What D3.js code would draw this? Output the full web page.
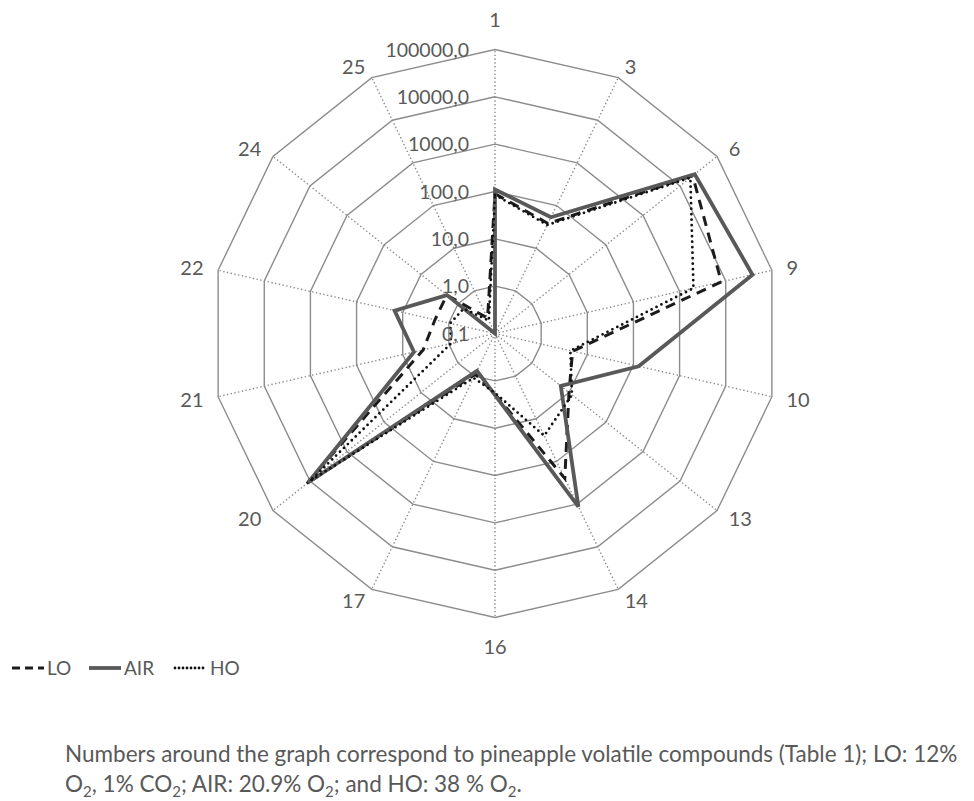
<!DOCTYPE html>
<html>
<head>
<meta charset="utf-8">
<script src="https://cdn.jsdelivr.net/npm/d3@7"></script>
<style>
  html, body { margin: 0; padding: 0; background: #ffffff; }
  svg { display: block; font-family: Lato, "Open Sans", sans-serif; }
</style>
</head>
<body>
<svg id="chart" width="974" height="801"></svg>
<script>
// Pineapple volatile compounds (numbers refer to Table 1)
const categories = ["1", "3", "6", "9", "10", "13", "14", "16", "17", "20", "21", "22", "24", "25"];

// Relative abundance per storage atmosphere (log scale)
const loValues  = [90, 38, 22000, 8000, 4.8, 10, 250, 1.9, 0.9, 12000, 3.6, 2.0, 2.0, 0.23];
const airValues = [110, 53, 25000, 38000, 130, 6, 1150, 2.0, 0.75, 11200, 5.7, 15, 2.0, 0.1];
const hoValues  = [85, 35, 19000, 2000, 4.3, 12, 25, 1.8, 1.1, 10000, 0.9, 0.93, 0.7, 0.2];

const seriesNames = ["LO", "AIR", "HO"];
const tickValues = [0.1, 1, 10, 100, 1000, 10000, 100000];

const series = [
  { name: seriesNames[0], values: loValues,  stroke: "#1c1c1c", width: 3,   dash: "10 7",  cap: "butt" },
  { name: seriesNames[1], values: airValues, stroke: "#595959", width: 3.8, dash: null,    cap: "butt" },
  { name: seriesNames[2], values: hoValues,  stroke: "#111111", width: 2.8, dash: "0 5.5", cap: "round" }
];

const svg = d3.select("#chart");
const cx = 495, cy = 333.5, R = 284;
const n = categories.length;
const textColor = "#595959";

const r = d3.scaleLog().domain([0.1, 100000]).range([0, R]).clamp(true);
const angle = d3.scaleLinear().domain([0, n]).range([0, 2 * Math.PI]);

const g = svg.append("g").attr("transform", `translate(${cx},${cy})`);

// Concentric polygon gridlines, one per decade
const ringLine = d3.lineRadial()
  .angle((d, i) => angle(i))
  .radius(d => d)
  .curve(d3.curveLinearClosed);

g.selectAll("path.ring")
  .data(tickValues.filter(t => t > 0.1))
  .join("path")
  .attr("class", "ring")
  .attr("d", t => ringLine(d3.range(n).map(() => r(t))))
  .attr("fill", "none")
  .attr("stroke", "#8c8c8c")
  .attr("stroke-width", 1.4);

// Dotted spokes
g.selectAll("line.spoke")
  .data(categories)
  .join("line")
  .attr("class", "spoke")
  .attr("x1", 0).attr("y1", 0)
  .attr("x2", (d, i) => R * Math.sin(angle(i)))
  .attr("y2", (d, i) => -R * Math.cos(angle(i)))
  .attr("stroke", "#8c8c8c")
  .attr("stroke-width", 1.4)
  .attr("stroke-dasharray", "1.4 2.4");

// Series polygons
const seriesLine = d3.lineRadial()
  .angle((d, i) => angle(i))
  .radius(d => r(d))
  .curve(d3.curveLinearClosed);

g.selectAll("path.series")
  .data(series)
  .join("path")
  .attr("class", "series")
  .attr("d", s => seriesLine(s.values))
  .attr("fill", "none")
  .attr("stroke", s => s.stroke)
  .attr("stroke-width", s => s.width)
  .attr("stroke-dasharray", s => s.dash)
  .attr("stroke-linecap", s => s.cap)
  .attr("stroke-linejoin", "miter");

// Value axis labels along the first spoke
const fmt = v => d3.format(".1f")(v).replace(".", ",");
g.selectAll("text.tick")
  .data(tickValues)
  .join("text")
  .attr("class", "tick")
  .attr("x", -26)
  .attr("y", t => -r(t))
  .attr("dy", "0.36em")
  .attr("text-anchor", "end")
  .attr("fill", textColor)
  .attr("font-size", 19.5)
  .text(fmt);

// Category labels around the outside
const catLabels = g.selectAll("text.cat")
  .data(categories)
  .join("text")
  .attr("class", "cat")
  .attr("text-anchor", "middle")
  .attr("dy", "0.36em")
  .attr("fill", textColor)
  .attr("font-size", 20)
  .text(d => d);

catLabels.each(function(d, i) {
  const a = angle(i);
  const s = Math.sin(a), c = Math.cos(a);
  const w = this.getComputedTextLength();
  const vx = R * s, vy = -R * c;
  let x, y;
  if (Math.abs(s) < 0.05) {
    x = vx;
    y = vy - c * 29.5;
  } else {
    x = vx + s * 15 + Math.sign(s) * w / 2;
    y = vy - c * 12.5;
  }
  d3.select(this).attr("x", x).attr("y", y);
});

// Legend
const legendY = 668;
const legendX = [10, 87, 173];
const legend = svg.selectAll("g.legend")
  .data(series)
  .join("g")
  .attr("class", "legend")
  .attr("transform", (s, i) => `translate(${legendX[i]},${legendY})`);

legend.append("line")
  .attr("x1", 2).attr("x2", 34)
  .attr("y1", 0).attr("y2", 0)
  .attr("stroke", s => s.stroke)
  .attr("stroke-width", s => s.width)
  .attr("stroke-dasharray", s => s.name === "HO" ? "0 4" : (s.name === "LO" ? "8 5" : null))
  .attr("stroke-linecap", s => s.cap);

legend.append("text")
  .attr("x", 37)
  .attr("y", 0)
  .attr("dy", "0.36em")
  .attr("fill", textColor)
  .attr("font-size", 19)
  .text(s => s.name);

// Caption, first line justified to the right margin
const captionLeft = 65, captionRight = 949, captionSize = 22.5;
const captionLine1 = "Numbers around the graph correspond to pineapple volatile compounds (Table 1); LO: 12%";
const cap1 = svg.append("text")
  .attr("x", captionLeft)
  .attr("y", 762)
  .attr("fill", textColor)
  .attr("font-size", captionSize)
  .text(captionLine1);
const natural = cap1.node().getComputedTextLength();
const spaces = captionLine1.split(" ").length - 1;
cap1.attr("word-spacing", Math.max(0, (captionRight - captionLeft - natural) / spaces));

const captionLine2 = [
  ["O", false], ["2", true], [", 1% CO", false], ["2", true],
  ["; AIR: 20.9% O", false], ["2", true], ["; and HO: 38 % O", false], ["2", true], [".", false]
];
const cap2 = svg.append("text")
  .attr("x", captionLeft)
  .attr("y", 792)
  .attr("fill", textColor)
  .attr("font-size", captionSize);
let shifted = false;
captionLine2.forEach(([txt, sub]) => {
  const t = cap2.append("tspan").text(txt);
  if (sub) { t.attr("dy", 5).attr("font-size", 15); shifted = true; }
  else if (shifted) { t.attr("dy", -5); shifted = false; }
});
</script>
</body>
</html>
